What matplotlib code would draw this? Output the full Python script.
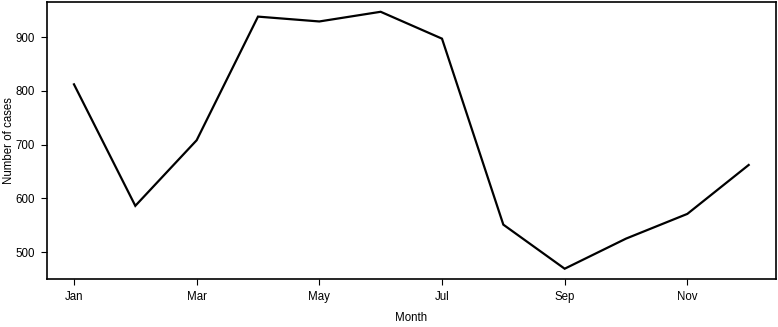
import numpy as np
import matplotlib
matplotlib.use("Agg")
import matplotlib.pyplot as plt

plt.rcParams['font.family'] = ['Liberation Sans', 'DejaVu Sans']

months = ["Jan", "Feb", "Mar", "Apr", "May", "Jun",
          "Jul", "Aug", "Sep", "Oct", "Nov", "Dec"]
cases = [812, 586, 708, 938, 929, 947, 897, 551, 469, 525, 571, 662]
tick_months = ["Jan", "Mar", "May", "Jul", "Sep", "Nov"]
ytick_vals = [500, 600, 700, 800, 900]

x = np.arange(1, len(months) + 1)

fig = plt.figure(figsize=(7.78, 3.27), dpi=100)
ax = fig.add_axes([0.0604, 0.1468, 0.9366, 0.8486])

ax.plot(x, cases, color="black", lw=1.6, solid_joinstyle="miter")

# R-style 4% padding
xr = x.max() - x.min()
ax.set_xlim(x.min() - 0.04 * xr, x.max() + 0.04 * xr)
yr = max(cases) - min(cases)
ax.set_ylim(min(cases) - 0.04 * yr, max(cases) + 0.04 * yr)

ax.set_xticks([months.index(m) + 1 for m in tick_months])
ax.set_xticklabels(tick_months)
ax.set_yticks(ytick_vals)
ax.tick_params(direction="out", length=4.5, width=0.8, labelsize=8.3, pad=4,
               colors="black")
for s in ax.spines.values():
    s.set_linewidth(1.2)

fig.text(0.528, 0.008, "Month", ha="center", va="bottom", fontsize=8.3)
fig.text(0.004, 0.57, "Number of cases", rotation=90, ha="left", va="center",
         fontsize=8.3)

fig.savefig("out.png", dpi=100)
